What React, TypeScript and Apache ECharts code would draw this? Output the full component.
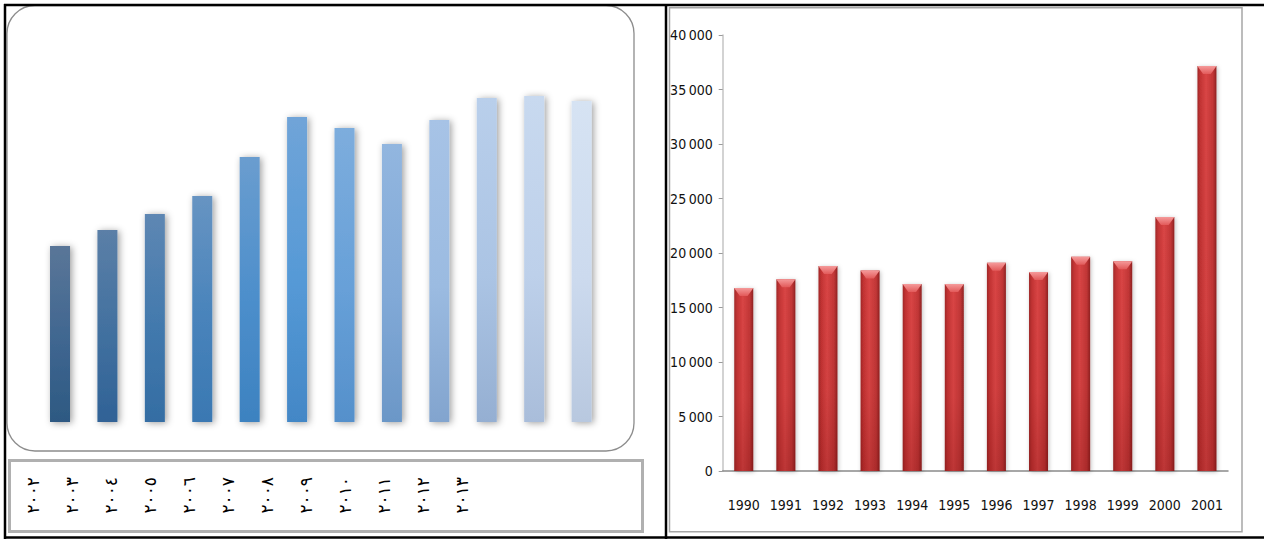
import React, { useEffect, useRef } from "react";
import * as echarts from "echarts";

// Left panel: yearly bars 2002–2013 (Arabic-Indic year labels, no value axis)
const arabicYears = [
  "٢٠٠٢", "٢٠٠٣", "٢٠٠٤", "٢٠٠٥", "٢٠٠٦", "٢٠٠٧",
  "٢٠٠٨", "٢٠٠٩", "٢٠١٠", "٢٠١١", "٢٠١٢", "٢٠١٣",
];
const blueValues = [176, 192, 208, 226, 265, 305, 294, 278, 302, 324, 326, 321];
const blueTop = [
  "#5a7698", "#5b7fa7", "#5e87b3", "#6794c2", "#6a9dcf", "#70a4d8",
  "#7daddd", "#92b6df", "#a7c3e6", "#b9cfeb", "#c8d9ef", "#d6e3f3",
];
const blueMid = [
  "#3f6690", "#41709f", "#4279ad", "#4883bb", "#4c8ecb", "#5599d6",
  "#67a0d8", "#81a9d7", "#9bbbe1", "#abc4e4", "#bdd0ea", "#ccdaee",
];
const blueBottom = [
  "#2d5982", "#306296", "#346da3", "#3a78b2", "#3d82c0", "#4387c6",
  "#5590cb", "#6b97c7", "#82a4ce", "#95afd2", "#a9bdda", "#b8c8df",
];

// Right panel: yearly values 1990–2001
const redYears = [
  "1990", "1991", "1992", "1993", "1994", "1995",
  "1996", "1997", "1998", "1999", "2000", "2001",
];
const redValues = [16800, 17600, 18800, 18400, 17150, 17150, 19100, 18250, 19650, 19250, 23300, 37150];
const redAxisMax = 40000;
const redAxisInterval = 5000;

const narrowFont = "'Liberation Sans Narrow', 'DejaVu Sans Condensed', 'Arial Narrow', sans-serif";

function groupThousands(v: number): string {
  const s = String(Math.round(v));
  return s.replace(/\B(?=(\d{3})+(?!\d))/g, "\u2009");
}

export default function App() {
  const ref = useRef<HTMLDivElement>(null);

  useEffect(() => {
    document.body.style.margin = "0";
    if (!ref.current) return;
    const chart = echarts.init(ref.current, null, { renderer: "svg" });

    const blueData = blueValues.map((v, i) => ({
      value: v,
      itemStyle: {
        color: new echarts.graphic.LinearGradient(0, 0, 0, 1, [
          { offset: 0, color: blueTop[i] },
          { offset: 0.55, color: blueMid[i] },
          { offset: 1, color: blueBottom[i] },
        ]),
      },
    }));

    const redBody = new echarts.graphic.LinearGradient(1, 0, 0, 0, [
      { offset: 0, color: "#8f2222" },
      { offset: 0.18, color: "#c13636" },
      { offset: 0.55, color: "#d94545" },
      { offset: 0.85, color: "#c23333" },
      { offset: 1, color: "#a02828" },
    ]);
    const redShade = new echarts.graphic.LinearGradient(0, 0, 0, 1, [
      { offset: 0, color: "rgba(90,0,0,0)" },
      { offset: 0.6, color: "rgba(90,0,0,0.05)" },
      { offset: 1, color: "rgba(90,0,0,0.22)" },
    ]);
    const redCap = new echarts.graphic.LinearGradient(0, 0, 0, 1, [
      { offset: 0, color: "#f59a9a" },
      { offset: 1, color: "#e25a5a" },
    ]);

    chart.setOption({
      animation: false,
      backgroundColor: "#ffffff",
      grid: [
        { left: 36.3, width: 569, top: 22, height: 400 },
        { left: 13.5, width: 468, top: 473, height: 1 },
        { left: 722.7, right: 36, top: 35, bottom: 68 },
      ],
      xAxis: [
        {
          gridIndex: 0,
          type: "category",
          data: arabicYears,
          axisLine: { show: false },
          axisTick: { show: false },
          axisLabel: { show: false },
        },
        {
          gridIndex: 1,
          type: "category",
          data: arabicYears,
          axisLine: { show: false },
          axisTick: { show: false },
          axisLabel: {
            interval: 0,
            rotate: 90,
            margin: 3,
            fontFamily: "'DejaVu Sans', sans-serif",
            fontSize: 17,
            color: "#000",
          },
        },
        {
          gridIndex: 2,
          type: "category",
          data: redYears,
          axisLine: { lineStyle: { color: "#8a8a8a", width: 1.5 } },
          axisTick: { length: 5, lineStyle: { color: "#8a8a8a" } },
          axisLabel: {
            interval: 0,
            margin: 27,
            fontFamily: narrowFont,
            fontSize: 14,
            color: "#111",
          },
        },
      ],
      yAxis: [
        { gridIndex: 0, type: "value", min: 0, max: 400, show: false },
        { gridIndex: 1, type: "value", show: false },
        {
          gridIndex: 2,
          type: "value",
          min: 0,
          max: redAxisMax,
          interval: redAxisInterval,
          splitLine: { show: false },
          axisLine: { show: true, lineStyle: { color: "#c4c4c4", width: 1.5 } },
          axisTick: { show: true, length: 4, lineStyle: { color: "#9a9a9a" } },
          axisLabel: {
            margin: 10,
            fontFamily: narrowFont,
            fontSize: 14,
            color: "#111",
            formatter: (v: number) => groupThousands(v),
          },
        },
      ],
      series: [
        {
          type: "bar",
          xAxisIndex: 0,
          yAxisIndex: 0,
          data: blueData,
          barWidth: 20,
          itemStyle: {
            shadowBlur: 7,
            shadowColor: "rgba(0,0,0,0.38)",
            shadowOffsetX: 2,
            shadowOffsetY: 1,
          },
        },
        {
          type: "bar",
          xAxisIndex: 2,
          yAxisIndex: 2,
          data: redValues,
          barWidth: 19,
          barGap: "-100%",
          itemStyle: {
            color: redBody,
            shadowBlur: 4,
            shadowColor: "rgba(0,0,0,0.25)",
            shadowOffsetX: 1,
            shadowOffsetY: 1,
          },
        },
        {
          type: "bar",
          xAxisIndex: 2,
          yAxisIndex: 2,
          data: redValues,
          barWidth: 19,
          barGap: "-100%",
          itemStyle: { color: redShade },
          z: 3,
        },
        {
          type: "pictorialBar",
          xAxisIndex: 2,
          yAxisIndex: 2,
          data: redValues,
          symbol: "path://M0,0 L20,0 L14,8 L6,8 Z",
          symbolSize: [19, 8],
          symbolPosition: "end",
          symbolOffset: [0, 0],
          itemStyle: { color: redCap },
          z: 4,
        },
      ],
      graphic: [
        // outer frame lines
        { type: "line", shape: { x1: 4, y1: 5, x2: 1264, y2: 5 }, style: { stroke: "#000", lineWidth: 2.5 }, z: 10 },
        { type: "line", shape: { x1: 5, y1: 4, x2: 5, y2: 539 }, style: { stroke: "#000", lineWidth: 2.5 }, z: 10 },
        { type: "line", shape: { x1: 4, y1: 537.5, x2: 1264, y2: 537.5 }, style: { stroke: "#000", lineWidth: 2.5 }, z: 10 },
        { type: "line", shape: { x1: 666, y1: 4, x2: 666, y2: 539 }, style: { stroke: "#000", lineWidth: 2.5 }, z: 10 },
        // left panel: rounded plot frame
        {
          type: "rect",
          shape: { x: 7, y: 5.5, width: 627, height: 445.5, r: 28 },
          style: { fill: "none", stroke: "#8c8c8c", lineWidth: 1.3 },
          z: 0,
        },
        // left panel: label box
        {
          type: "rect",
          shape: { x: 9.5, y: 460.5, width: 633, height: 71 },
          style: { fill: "none", stroke: "#b0b0b0", lineWidth: 3 },
          z: 0,
        },
        // right panel: chart area box
        {
          type: "rect",
          shape: { x: 669.5, y: 7.8, width: 572.5, height: 524 },
          style: { fill: "none", stroke: "#a6a6a6", lineWidth: 1.5 },
          z: 0,
        },
      ],
    });

    return () => chart.dispose();
  }, []);

  return <div ref={ref} style={{ width: 1264, height: 539 }} />;
}
